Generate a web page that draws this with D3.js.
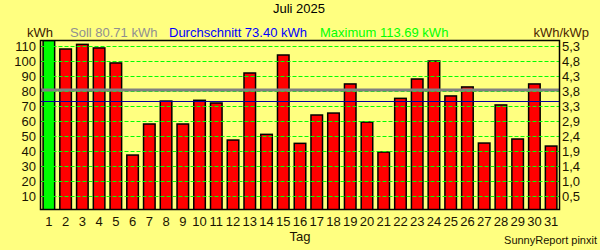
<!DOCTYPE html>
<html>
<head>
<meta charset="utf-8">
<script src="https://cdn.jsdelivr.net/npm/d3@7"></script>
<style>
  body { margin: 0; background: #ffff80; }
  svg { display: block; font-family: "Liberation Sans", Arial, sans-serif; }
</style>
</head>
<body>
<div class="plot"></div>
<script>
// daily yield, Juli 2025
var days = d3.range(1, 32).map(String);
var kwh = [113.69, 108.0, 111.1, 108.7, 98.7, 37.3, 58.0, 73.3, 58.0, 73.8,
           72.0, 47.3, 92.0, 51.1, 104.0, 45.1, 64.0, 65.3, 84.7, 59.3,
           39.3, 75.1, 88.0, 100.0, 76.7, 82.7, 45.3, 70.7, 48.0, 84.7, 43.3];
var leftTicks = [10, 20, 30, 40, 50, 60, 70, 80, 90, 100, 110];
var rightTicks = ["0,5", "1,0", "1,4", "1,9", "2,4", "2,9", "3,3", "3,8", "4,3", "4,8", "5,3"];
var soll = 80.71;
var avg = 73.40;
var maxVal = 113.69;

function plotMonth() {
  var width = 600;
  var height = 250;

  var svg = d3.select(".plot").append("svg")
    .attr("width", width)
    .attr("height", height);

  svg.append("rect")
    .attr("width", width).attr("height", height)
    .attr("fill", "#ffff80");

  var x = d3.scaleBand()
    .domain(days)
    .range([40.5, 559.5])
    .paddingInner(0.31)
    .paddingOuter(0.155);

  var y = d3.scaleLinear()
    .domain([0, 114])
    .range([211, 40]);

  var top = 40.5, bottom = 209.5, left = 40.5, right = 559.5;

  svg.append("clipPath").attr("id", "clip")
    .append("rect")
    .attr("x", left).attr("y", top)
    .attr("width", right - left).attr("height", bottom - top);

  var plot = svg.append("g").attr("clip-path", "url(#clip)");

  // bars, the best day is green
  plot.selectAll(".bar")
    .data(kwh)
    .join("rect")
    .attr("class", "bar")
    .attr("x", (d, i) => x(days[i]))
    .attr("y", d => y(d))
    .attr("width", x.bandwidth())
    .attr("height", d => y(0) - y(d) + 2)
    .attr("fill", d => d == maxVal ? "#00ff00" : "#ff0000")
    .attr("stroke", "#000")
    .attr("stroke-width", 1.5);

  // grid on top of the bars
  plot.selectAll(".grid")
    .data(leftTicks)
    .join("line")
    .attr("class", "grid")
    .attr("x1", left).attr("x2", right)
    .attr("y1", d => Math.round(y(d)) + 0.5)
    .attr("y2", d => Math.round(y(d)) + 0.5)
    .attr("stroke", "#00ff00")
    .attr("stroke-dasharray", "4,2");

  plot.append("line")
    .attr("x1", left).attr("x2", right)
    .attr("y1", y(soll)).attr("y2", y(soll))
    .attr("stroke", "#808080")
    .attr("stroke-width", 3);

  plot.append("line")
    .attr("x1", left).attr("x2", right)
    .attr("y1", Math.round(y(avg)) + 0.5).attr("y2", Math.round(y(avg)) + 0.5)
    .attr("stroke", "#0000a0")
    .attr("stroke-width", 1);

  svg.append("rect")
    .attr("x", left).attr("y", top)
    .attr("width", right - left).attr("height", bottom - top)
    .attr("fill", "none")
    .attr("stroke", "#000")
    .attr("stroke-width", 1.5);

  // axes
  var yLeft = svg.append("g")
    .attr("transform", "translate(40,0)")
    .call(d3.axisLeft(y).tickValues(leftTicks).tickSize(0).tickPadding(4));

  var yRight = svg.append("g")
    .attr("transform", "translate(559,0)")
    .call(d3.axisRight(y).tickValues(leftTicks).tickSize(0).tickPadding(3)
      .tickFormat((d, i) => rightTicks[i]));

  var xAxis = svg.append("g")
    .attr("transform", "translate(0,210)")
    .call(d3.axisBottom(x).tickSize(0).tickPadding(7));

  [yLeft, yRight, xAxis].forEach(function(g) {
    g.select(".domain").remove();
    g.selectAll("text")
      .style("font-size", "13px")
      .style("font-family", "'Liberation Sans', Arial, sans-serif")
      .attr("fill", "#1a1400");
  });

  // titles and legend texts
  var texts = [
    {t: "Juli 2025", x: 299, y: 13, c: "#000", a: "middle"},
    {t: "kWh", x: 27, y: 37, c: "#3a2000", a: "start"},
    {t: "Soll " + soll.toFixed(2) + " kWh", x: 70, y: 37, c: "#909090", a: "start"},
    {t: "Durchschnitt " + avg.toFixed(2) + " kWh", x: 169, y: 37, c: "#0000ff", a: "start"},
    {t: "Maximum " + maxVal.toFixed(2) + " kWh", x: 320, y: 37, c: "#00ff00", a: "start"},
    {t: "kWh/kWp", x: 589, y: 37, c: "#4d2600", a: "end"},
    {t: "Tag", x: 300, y: 241, c: "#1a1400", a: "middle"}
  ];

  svg.selectAll(".lbl")
    .data(texts)
    .join("text")
    .attr("class", "lbl")
    .attr("x", d => d.x)
    .attr("y", d => d.y)
    .attr("text-anchor", d => d.a)
    .attr("fill", d => d.c)
    .style("font-size", "13px")
    .text(d => d.t);

  svg.append("text")
    .attr("x", 597).attr("y", 244)
    .attr("text-anchor", "end")
    .attr("fill", "#1a1400")
    .style("font-size", "11px")
    .text("SunnyReport pinxit");
}

plotMonth();
</script>
</body>
</html>
